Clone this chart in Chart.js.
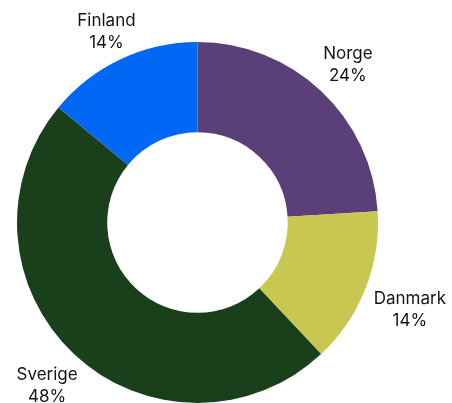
<!DOCTYPE html>
<html lang="en">
<head>
  <meta charset="UTF-8">
  <title>Doughnut</title>
  <script src="https://cdn.jsdelivr.net/npm/chart.js"></script>
  <style>
    html, body { margin: 0; padding: 0; background: #fff; }
    #wrap { width: 452px; height: 403px; }
  </style>
</head>
<body>
  <div id="wrap"><canvas id="donut" width="452" height="403"></canvas></div>

  <script>
    const countries = ['Norge', 'Danmark', 'Sverige', 'Finland'];
    const shares = [24, 14, 48, 14];
    const shareLabels = ['24%', '14%', '48%', '14%'];
    const colours = ['#5b3f78', '#c8c851', '#19401b', '#0068f5'];

    // draws "name / pct" just outside each slice
    const outsideLabels = {
      id: 'outsideLabels',
      afterDatasetsDraw(chart) {
        const c = chart.ctx;
        const meta = chart.getDatasetMeta(0);
        c.save();
        c.font = '17px Inter, "Noto Sans", sans-serif';
        c.fillStyle = '#141414';
        c.textAlign = 'center';
        c.textBaseline = 'middle';
        const lineH = 22;
        meta.data.forEach((arc, i) => {
          const mid = (arc.startAngle + arc.endAngle) / 2;
          const dx = Math.cos(mid), dy = Math.sin(mid);
          const w = Math.max(c.measureText(countries[i]).width, c.measureText(shareLabels[i]).width);
          const h = lineH * 2;
          const ext = Math.min(Math.abs(dx) > 1e-6 ? (w / 2) / Math.abs(dx) : 1e9,
                               Math.abs(dy) > 1e-6 ? (h / 2) / Math.abs(dy) : 1e9);
          const d = arc.outerRadius + 9 + ext;
          const x = arc.x + dx * d, y = arc.y + dy * d + 3;
          c.fillText(countries[i], x, y - lineH / 2);
          c.fillText(shareLabels[i], x, y + lineH / 2);
        });
        c.restore();
      }
    };

    const ctx = document.getElementById('donut').getContext('2d');
    new Chart(ctx, {
      type: 'doughnut',
      data: {
        labels: countries,
        datasets: [{
          data: shares,
          backgroundColor: colours,
          borderWidth: 0
        }]
      },
      options: {
        responsive: false,
        animation: false,
        cutout: '50%',
        layout: { padding: { left: 17, right: 74, top: 42, bottom: 0 } },
        plugins: {
          legend: { display: false },
          tooltip: { enabled: false }
        }
      },
      plugins: [outsideLabels]
    });
  </script>
</body>
</html>
